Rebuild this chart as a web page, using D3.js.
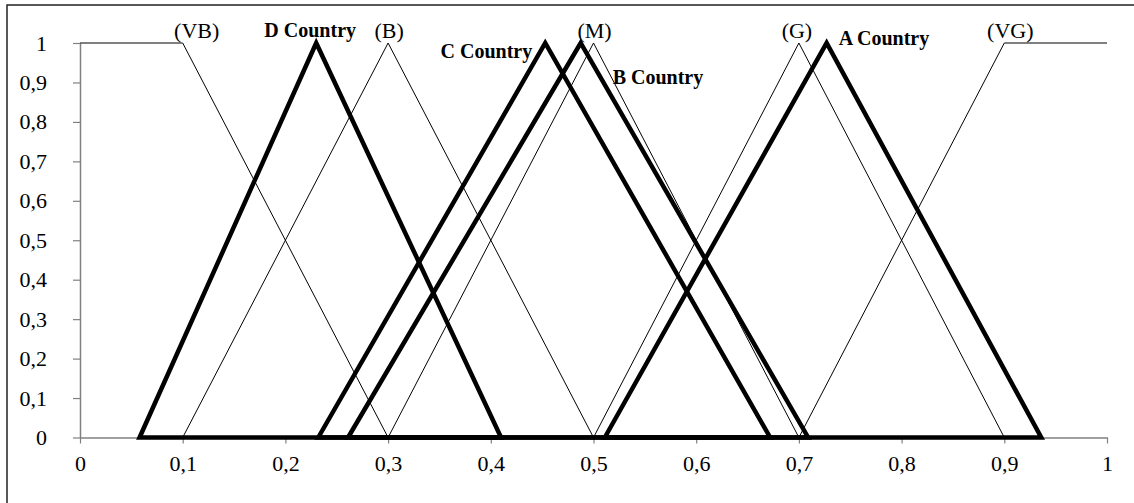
<!DOCTYPE html>
<html><head><meta charset="utf-8">
<script src="https://cdn.jsdelivr.net/npm/d3@7"></script>
<style>body{margin:0;background:#fff}svg{display:block}</style>
</head><body><svg id="c" width="1134" height="503"></svg>
<script>
// linguistic terms (thin lines)
const termNames = ["(VB)", "(B)", "(M)", "(G)", "(VG)"];
const termX = [[0, 0.1, 0.3], [0.1, 0.3, 0.5], [0.3, 0.5, 0.7], [0.5, 0.7, 0.9], [0.7, 0.9, 1]];
const termY = [[1, 1, 0], [0, 1, 0], [0, 1, 0], [0, 1, 0], [0, 1, 1]];
// countries (thick triangles)
const countryNames = ["A Country", "B Country", "C Country", "D Country"];
const countryX = [[0.511, 0.727, 0.936], [0.261, 0.4875, 0.709], [0.232, 0.453, 0.672], [0.058, 0.230, 0.410]];
const countryY = [0, 1, 0];
const xTicks = [0, 0.1, 0.2, 0.3, 0.4, 0.5, 0.6, 0.7, 0.8, 0.9, 1];
const yTicks = [0, 0.1, 0.2, 0.3, 0.4, 0.5, 0.6, 0.7, 0.8, 0.9, 1];

const svg = d3.select("#c");
const x = d3.scaleLinear().domain([0, 1]).range([80, 1107]);
const y = d3.scaleLinear().domain([0, 1]).range([437.5, 43]);
const fmt = d => String(d).replace(".", ",");
const font = "'Liberation Serif','Times New Roman',serif";

// outer frame (cropped at right/bottom)
svg.append("rect").attr("x", 7).attr("y", 5).attr("width", 1300).attr("height", 700)
  .attr("fill", "none").attr("stroke", "#222").attr("stroke-width", 1.5);

// axes
const gx = svg.append("g").attr("transform", `translate(0,${y(0)})`)
  .call(d3.axisBottom(x).tickValues(xTicks).tickFormat(fmt).tickSizeInner(6).tickSizeOuter(0).tickPadding(8));
const gy = svg.append("g").attr("transform", `translate(${x(0)},0)`)
  .call(d3.axisLeft(y).tickValues(yTicks).tickFormat(fmt).tickSizeInner(7).tickSizeOuter(0).tickPadding(26));
[gx, gy].forEach(g => {
  g.select(".domain").attr("stroke", "#808080").attr("stroke-width", 1.5);
  g.selectAll(".tick line").attr("stroke", "#808080").attr("stroke-width", 1.2);
  g.selectAll("text").attr("font-family", font).attr("font-size", 22).attr("fill", "#000");
});
gx.selectAll("text").attr("dy", "0.9em");

const line = d3.line().x(d => x(d[0])).y(d => y(d[1]));

// thin term lines
termX.forEach((xs, i) => {
  svg.append("path").attr("d", line(xs.map((v, j) => [v, termY[i][j]])))
    .attr("fill", "none").attr("stroke", "#000").attr("stroke-width", 1);
});

// thick country triangles
countryX.forEach(xs => {
  const pts = xs.map((v, j) => [v, countryY[j]]);
  svg.append("path").attr("d", line(pts) + "Z")
    .attr("fill", "none").attr("stroke", "#000").attr("stroke-width", 4.5)
    .attr("stroke-linejoin", "miter").attr("stroke-miterlimit", 10);
});

// term labels (centered near the peak corner)
const termLabelDx = [14, 1, 1, -2, 6];
termNames.forEach((t, i) => {
  svg.append("text").attr("x", x(termX[i][1]) + termLabelDx[i]).attr("y", 38)
    .attr("text-anchor", "middle").attr("font-family", font).attr("font-size", 22)
    .text(t);
});

// country labels
const countryLabelLayout = [
  { dx: 12, y: 45, anchor: "start" },   // A
  { dx: 32, y: 84, anchor: "start" },   // B
  { dx: -13, y: 58, anchor: "end" },    // C
  { dx: -6, y: 37, anchor: "middle" }   // D
];
countryNames.forEach((t, i) => {
  const L = countryLabelLayout[i];
  svg.append("text").attr("x", x(countryX[i][1]) + L.dx).attr("y", L.y)
    .attr("text-anchor", L.anchor).attr("font-family", font).attr("font-size", 20)
    .attr("font-weight", "bold").text(t);
});
</script></body></html>
